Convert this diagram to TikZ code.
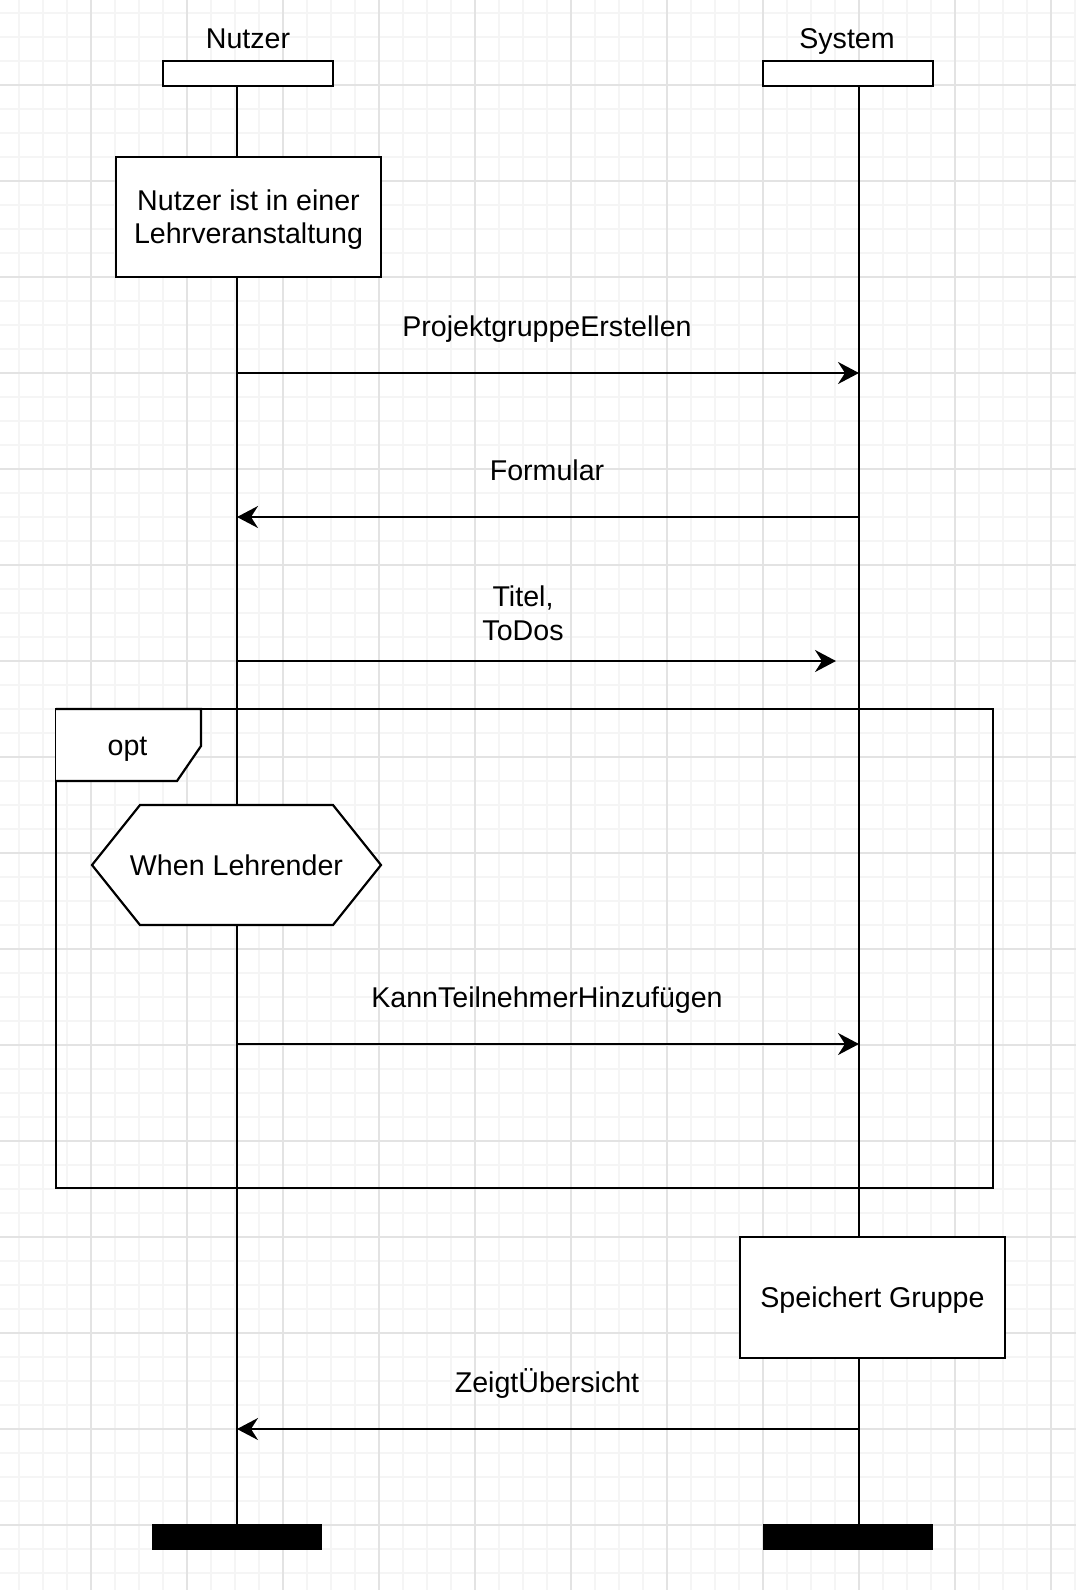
\documentclass[tikz,border=0pt]{standalone}
\usepackage{fontspec}
\setmainfont{Liberation Sans}
\usetikzlibrary{arrows.meta}
\tikzstyle{lifehead} = [rectangle, draw=black, fill=white, line width=1.1pt, minimum width=85pt, minimum height=12.5pt, inner sep=0pt]
\tikzstyle{endbar} = [rectangle, fill=black, minimum width=85pt, minimum height=13pt, inner sep=0pt]
\tikzstyle{activity} = [rectangle, draw=black, fill=white, line width=1.1pt, minimum width=132.5pt, minimum height=60pt, text centered, align=center, text depth=0pt, inner sep=0pt]
\tikzstyle{lbl} = [anchor=base, inner sep=0pt]
\tikzstyle{life} = [line width=1.1pt]
\tikzstyle{frame} = [line width=1.1pt]
\tikzstyle{msg} = [line width=1.1pt, -{Stealth[length=10.5pt, width=11pt, inset=3.5pt]}]
\tikzstyle{gridminor} = [draw=black!4, line width=0.6pt]
\tikzstyle{gridmajor} = [draw=black!11, line width=0.6pt]

\begin{document}
\begin{tikzpicture}[x=0.5pt, y=-0.5pt, font=\fontsize{14.3pt}{16.5pt}\selectfont]
\useasboundingbox (0,0) rectangle (1076,1592);
\fill[white] (0,0) rectangle (1076,1592);
% grid
\foreach \x in {19,43,...,1075} \draw[gridminor] (\x,0) -- (\x,1590);
\foreach \y in {13,37,...,1589} \draw[gridminor] (0,\y) -- (1076,\y);
\foreach \x in {91,187,...,1051} \draw[gridmajor] (\x,0) -- (\x,1590);
\foreach \y in {85,181,...,1525} \draw[gridmajor] (0,\y) -- (1076,\y);

% heads and ends
\node (nutzer) [lifehead] at (248,73.5) {};
\node (system) [lifehead] at (848,73.5) {};
\node (nutzerlbl) [lbl] at (248,48) {Nutzer};
\node (systemlbl) [lbl] at (847,48) {System};
\node (nutzerend) [endbar] at (237,1537) {};
\node (systemend) [endbar] at (848,1537) {};

% opt frame
\draw[frame] (56,709) rectangle (993,1188);
\draw[frame, fill=white] (56,709) -- (201,709) -- (201,746) -- (177,781) -- (56,781);
\node (optlbl) [lbl] at (127.5,755) {opt};

% lifelines
\draw[life] (nutzerend.north) -- (nutzerend.north |- nutzer.south);
\draw[life] ([xshift=5.5pt]system.south) -- ([xshift=5.5pt]system.south |- systemend.north);

% boxes on the lifelines
\node (inlv) [activity] at (248.5,217) {Nutzer ist in einer\\Lehrveranstaltung};
\draw[frame, fill=white] (92,865) -- (140,805) -- (333,805) -- (381,865) -- (333,925) -- (140,925) -- cycle;
\node (lehrender) [inner sep=0pt] at (236.5,865) {When Lehrender};
\node (speichert) [activity, minimum height=60.5pt] at (872.5,1297.5) {Speichert Gruppe};

% messages
\coordinate (n1) at (237,373);  \coordinate (s1) at (859,373);
\coordinate (n2) at (237,517);  \coordinate (s2) at (859,517);
\coordinate (n3) at (237,661);  \coordinate (s3) at (836,661);
\coordinate (n4) at (237,1044); \coordinate (s4) at (859,1044);
\coordinate (n5) at (237,1429); \coordinate (s5) at (859,1429);

\draw [msg] (n1) -- (s1);
\node (m1) [lbl] at (547,336) {ProjektgruppeErstellen};
\draw [msg] (s2) -- (n2);
\node (m2) [lbl] at (547,480) {Formular};
\draw [msg] (n3) -- (s3);
\node (m3) [align=center, inner sep=0pt, font=\fontsize{14.3pt}{17pt}\selectfont] at (523,613) {Titel,\\ToDos};
\draw [msg] (n4) -- (s4);
\node (m4) [lbl] at (547,1007) {KannTeilnehmerHinzufügen};
\draw [msg] (s5) -- (n5);
\node (m5) [lbl] at (547,1392) {ZeigtÜbersicht};

\end{tikzpicture}
\end{document}
